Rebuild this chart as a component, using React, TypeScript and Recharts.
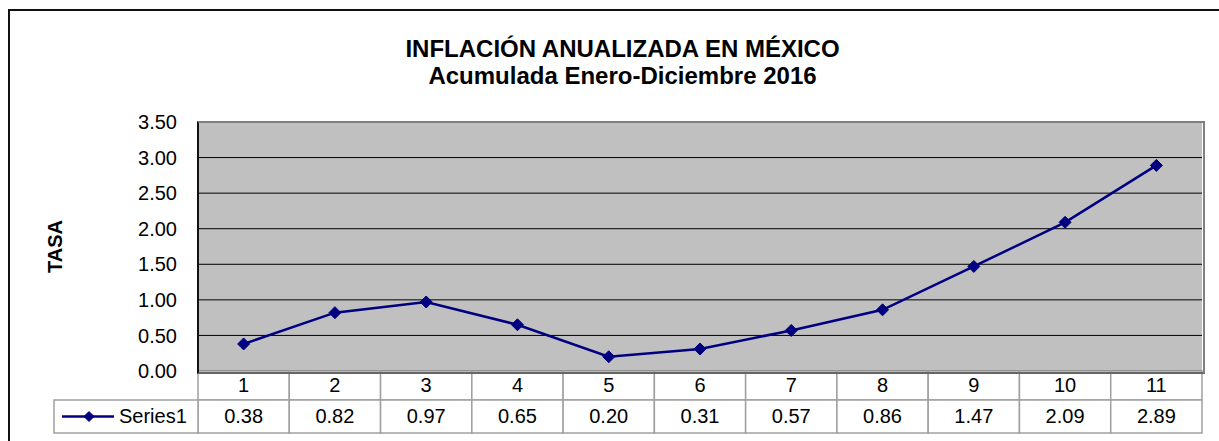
import { LineChart, Line, XAxis, YAxis, CartesianGrid } from "recharts";

const meses = ["1", "2", "3", "4", "5", "6", "7", "8", "9", "10", "11"];
const tasa = [0.38, 0.82, 0.97, 0.65, 0.2, 0.31, 0.57, 0.86, 1.47, 2.09, 2.89];
const yTicks = [0, 0.5, 1, 1.5, 2, 2.5, 3, 3.5];
const seriesName = "Series1";

const data = meses.map((mes, i) => ({ mes, tasa: tasa[i] }));

const FONT = '"Liberation Sans", Arial, sans-serif';
const NAVY = "#000080";
const CELL = "#a0a0a0";

const W = 1219;
const H = 441;
const PLOT_LEFT = 198;
const PLOT_RIGHT = 1202;
const PLOT_TOP = 122;
const PLOT_BOTTOM = 371;
const BAND = (PLOT_RIGHT - PLOT_LEFT) / meses.length;
const ROW1 = 29;
const ROW2 = 33;
const LEGEND_W = 144;

function Diamond({ cx, cy, r = 6 }: { cx?: number; cy?: number; r?: number }) {
  if (cx == null || cy == null) return null;
  return (
    <polygon
      points={`${cx},${cy - r} ${cx + r},${cy} ${cx},${cy + r} ${cx - r},${cy}`}
      fill={NAVY}
      stroke={NAVY}
    />
  );
}

function TableTick(props: any) {
  const { x, y, payload, index } = props;
  const left = x - BAND / 2;
  const value = tasa[index];
  const row2Y = y + ROW1;
  return (
    <g>
      <rect x={left} y={y} width={BAND} height={ROW1} fill="#fff" stroke={CELL} strokeWidth={1.5} />
      <text x={x} y={y + 21} textAnchor="middle" fontSize={20} fontFamily={FONT} fill="#000">
        {payload.value}
      </text>
      <rect x={left} y={row2Y} width={BAND} height={ROW2} fill="#fff" stroke={CELL} strokeWidth={1.5} />
      <text x={x} y={row2Y + 23} textAnchor="middle" fontSize={20} fontFamily={FONT} fill="#000">
        {value.toFixed(2)}
      </text>
      {index === 0 && (
        <g>
          <rect
            x={left - LEGEND_W}
            y={row2Y}
            width={LEGEND_W}
            height={ROW2}
            fill="#fff"
            stroke={CELL}
            strokeWidth={1.5}
          />
          <line
            x1={left - LEGEND_W + 8}
            x2={left - LEGEND_W + 60}
            y1={row2Y + ROW2 / 2}
            y2={row2Y + ROW2 / 2}
            stroke={NAVY}
            strokeWidth={2.5}
          />
          <Diamond cx={left - LEGEND_W + 35} cy={row2Y + ROW2 / 2} r={5} />
          <text x={left - LEGEND_W + 65} y={row2Y + 23} fontSize={20} fontFamily={FONT} fill="#000">
            {seriesName}
          </text>
        </g>
      )}
    </g>
  );
}

export default function App() {
  return (
    <div
      style={{
        position: "absolute",
        left: 0,
        top: 0,
        width: W,
        height: H,
        overflow: "hidden",
        background: "#fff",
        fontFamily: FONT,
      }}
    >
      <div
        style={{
          position: "absolute",
          left: 8,
          top: 9,
          width: 1400,
          height: 600,
          borderLeft: "2px solid #111",
          borderTop: "2px solid #111",
        }}
      />
      <div
        style={{
          position: "absolute",
          left: 0,
          width: 1245,
          top: 35,
          textAlign: "center",
          fontWeight: "bold",
          fontSize: 24,
          lineHeight: "27px",
          color: "#000",
        }}
      >
        <div>INFLACIÓN ANUALIZADA EN MÉXICO</div>
        <div>Acumulada Enero-Diciembre 2016</div>
      </div>
      <div style={{ position: "absolute", left: 0, top: 0 }}>
        <LineChart
          width={W}
          height={H}
          data={data}
          margin={{ top: PLOT_TOP, right: W - PLOT_RIGHT, bottom: 8, left: PLOT_LEFT - 80 }}
        >
          <CartesianGrid
            vertical={false}
            stroke="#000"
            strokeWidth={1}
            fill="#C0C0C0"
            fillOpacity={1}
          />
          <XAxis
            dataKey="mes"
            interval={0}
            height={H - PLOT_BOTTOM - 8}
            tickLine={false}
            axisLine={false}
            tickSize={0}
            tickMargin={0}
            padding={{ left: BAND / 2, right: BAND / 2 }}
            tick={<TableTick />}
          />
          <YAxis
            width={80}
            domain={[0, 3.5]}
            ticks={yTicks}
            interval={0}
            tickLine={false}
            axisLine={{ stroke: "#000", strokeWidth: 2 }}
            tickMargin={15}
            tick={{ fill: "#000", fontSize: 20, fontFamily: FONT }}
            tickFormatter={(v: number) => v.toFixed(2)}
            label={{
              content: (p: any) => {
                const vb = p.viewBox || { x: 118, y: PLOT_TOP, height: 249 };
                const cx = vb.x - 63;
                const cy = vb.y + vb.height / 2;
                return (
                  <text
                    x={cx}
                    y={cy}
                    transform={`rotate(-90 ${cx} ${cy})`}
                    textAnchor="middle"
                    dominantBaseline="central"
                    fontSize={20}
                    fontWeight="bold"
                    fontFamily={FONT}
                    fill="#000"
                  >
                    TASA
                  </text>
                );
              },
            }}
          />
          <Line
            type="linear"
            dataKey="tasa"
            name={seriesName}
            stroke={NAVY}
            strokeWidth={2.5}
            dot={(p: any) => <Diamond key={p.index} cx={p.cx} cy={p.cy} r={6} />}
            activeDot={false}
            isAnimationActive={false}
          />
        </LineChart>
      </div>
      <div
        style={{
          position: "absolute",
          left: PLOT_LEFT - 1,
          top: PLOT_TOP - 1,
          width: PLOT_RIGHT - PLOT_LEFT,
          height: PLOT_BOTTOM - PLOT_TOP,
          borderTop: "2px solid #808080",
          borderRight: "2px solid #808080",
          borderBottom: "2px solid #666",
          borderLeft: "2px solid #111",
          pointerEvents: "none",
        }}
      />
    </div>
  );
}
